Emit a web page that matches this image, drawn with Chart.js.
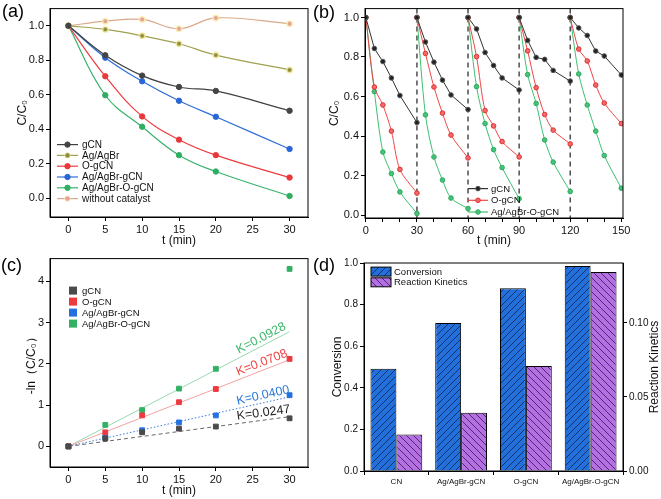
<!DOCTYPE html>
<html>
<head>
<meta charset="utf-8">
<script src="https://cdn.jsdelivr.net/npm/chart.js@4.4.0/dist/chart.umd.min.js"></script>
<style>
  body { margin: 0; width: 661px; height: 499px; background: #fff; position: relative; overflow: hidden;
         font-family: "Liberation Sans", Arial, sans-serif; }
  canvas { position: absolute; }
  .tag { position: absolute; font-size: 18px; line-height: 18px; color: #000; }
</style>
</head>
<body>
<canvas id="chart-a" width="330" height="250" style="left:0;top:0"></canvas>
<canvas id="chart-b" width="335" height="250" style="left:326px;top:0"></canvas>
<canvas id="chart-c" width="330" height="249" style="left:0;top:250px"></canvas>
<canvas id="chart-d" width="335" height="249" style="left:326px;top:250px"></canvas>
<div class="tag" style="left:2px;top:2px">(a)</div>
<div class="tag" style="left:313px;top:3px">(b)</div>
<div class="tag" style="left:1px;top:256px">(c)</div>
<div class="tag" style="left:313px;top:256px">(d)</div>
<script>
// ---- (a) C/C0 vs time, all samples ----
const timeA = [0, 5, 10, 15, 20, 30];
const gcnA = [1.0, 0.829, 0.711, 0.645, 0.622, 0.507];
const agAgBrA = [1.0, 0.979, 0.942, 0.896, 0.830, 0.744];
const ogcnA = [1.0, 0.707, 0.474, 0.339, 0.249, 0.119];
const agGcnA = [1.0, 0.815, 0.678, 0.565, 0.472, 0.285];
const agOgcnA = [1.0, 0.597, 0.414, 0.249, 0.154, 0.012];
const blankA = [1.0, 1.027, 1.037, 0.983, 1.046, 1.012];
const ticksA = [0, 5, 10, 15, 20, 25, 30];
const ticksAy = [0, 0.2, 0.4, 0.6, 0.8, 1.0];

// ---- (b) cycling runs ----
const cycleStarts = [0, 30, 60, 90, 120];
const cycleOffsets = [0, 5, 10, 15, 20, 30];
const gcnB = [
  [1.0, 0.843, 0.777, 0.694, 0.605, 0.468],
  [1.0, 0.876, 0.774, 0.683, 0.608, 0.534],
  [1.0, 0.942, 0.823, 0.757, 0.694, 0.633],
  [1.0, 0.884, 0.798, 0.788, 0.732, 0.678],
  [1.0, 0.947, 0.909, 0.830, 0.805, 0.709],
];
const ogcnB = [
  [1.0, 0.648, 0.557, 0.425, 0.231, 0.111],
  [1.0, 0.818, 0.648, 0.516, 0.405, 0.289],
  [1.0, 0.802, 0.529, 0.451, 0.372, 0.294],
  [1.0, 0.831, 0.645, 0.509, 0.430, 0.360],
  [1.0, 0.840, 0.780, 0.658, 0.567, 0.463],
];
const agOgcnB = [
  [1.0, 0.625, 0.319, 0.210, 0.117, 0.008],
  [1.0, 0.507, 0.294, 0.177, 0.086, 0.033],
  [1.0, 0.650, 0.463, 0.331, 0.240, 0.083],
  [1.0, 0.711, 0.565, 0.380, 0.268, 0.119],
  [1.0, 0.714, 0.557, 0.425, 0.301, 0.136],
];
const cycleBreaks = [30, 60, 90, 120];
const labelTicksB = [0, 30, 60, 90, 120, 150];
const ticksBy = [0, 0.2, 0.4, 0.6, 0.8, 1.0];

// ---- (c) -ln(C/C0) kinetics ----
const timeC = [0, 5, 10, 15, 20, 30];
const gcnC = [0, 0.19, 0.34, 0.43, 0.48, 0.68];
const ogcnC = [0, 0.34, 0.75, 1.07, 1.39, 2.12];
const agGcnC = [0, 0.22, 0.39, 0.58, 0.75, 1.24];
const agOgcnC = [0, 0.52, 0.88, 1.40, 1.88, 4.30];
const fitEndC = [0.72, 2.10, 1.20, 2.78]; // fitted line value at 30 min
const kLabels = ["K=0.0247", "K=0.0708", "K=0.0400", "K=0.0928"];
const ticksCy = [0, 1, 2, 3, 4];

// ---- (d) conversion vs kinetics ----
const samplesD = ["CN", "Ag/AgBr-gCN", "O-gCN", "Ag/AgBr-O-gCN"];
const conversionD = [0.492, 0.712, 0.879, 0.985];
const kineticsD = [0.0247, 0.0394, 0.0709, 0.1345];
const ticksDy = [0, 0.2, 0.4, 0.6, 0.8, 1.0];
const ticksDy1 = [0, 0.05, 0.1];

Chart.defaults.font.family = '"Liberation Sans", Arial, sans-serif';
Chart.defaults.color = "#111";
Chart.defaults.animation = false;

const tickFont = { size: 11 };
const titleFont = { size: 12 };

// Helpers
function fixTicks(values) {
  return (axis) => { axis.ticks = values.map((v) => ({ value: v })); };
}
function axisBase() {
  return {
    grid: { drawOnChartArea: false, drawTicks: true, tickLength: 4, color: "#000" },
    border: { color: "#000", width: 1 },
    ticks: { font: tickFont, color: "#111", padding: 2, autoSkip: false, maxRotation: 0 },
  };
}
function hatch(fill, stroke, forward) {
  const c = document.createElement("canvas");
  c.width = c.height = 7;
  const g = c.getContext("2d");
  g.fillStyle = fill;
  g.fillRect(0, 0, 7, 7);
  g.strokeStyle = stroke;
  g.lineWidth = 1;
  g.beginPath();
  if (forward) {
    g.moveTo(-1, 8); g.lineTo(8, -1);
    g.moveTo(-1, 1); g.lineTo(1, -1);
    g.moveTo(6, 8); g.lineTo(8, 6);
  } else {
    g.moveTo(-1, -1); g.lineTo(8, 8);
    g.moveTo(6, -1); g.lineTo(8, 1);
    g.moveTo(-1, 6); g.lineTo(1, 8);
  }
  g.stroke();
  return g.createPattern(c, "repeat");
}

// Plugins
const framePlugin = {
  id: "frame",
  afterDatasetsDraw(chart) {
    const { ctx, chartArea: a } = chart;
    ctx.save();
    ctx.strokeStyle = "#000";
    ctx.lineWidth = 1;
    ctx.strokeRect(a.left, a.top, a.right - a.left, a.bottom - a.top);
    ctx.restore();
  },
};

const insetLegend = {
  id: "insetLegend",
  afterDraw(chart, args, opts) {
    if (!opts.datasets) return;
    const { ctx, chartArea } = chart;
    ctx.save();
    ctx.font = opts.font;
    ctx.textBaseline = "middle";
    opts.datasets.forEach((di, row) => {
      const ds = chart.data.datasets[di];
      const x = chartArea.left + opts.x;
      const y = chartArea.top + opts.y + row * opts.rowHeight;
      if (opts.sample === "line") {
        ctx.strokeStyle = ds.borderColor;
        ctx.lineWidth = 1.2;
        ctx.beginPath();
        ctx.moveTo(x, y);
        ctx.lineTo(x + opts.width, y);
        ctx.stroke();
        ctx.beginPath();
        ctx.arc(x + opts.width / 2, y, ds.pointRadius, 0, Math.PI * 2);
        ctx.fillStyle = ds.pointBackgroundColor;
        ctx.fill();
        ctx.strokeStyle = ds.pointBorderColor;
        ctx.lineWidth = 1;
        ctx.stroke();
      } else {
        ctx.fillStyle = ds.backgroundColor;
        ctx.fillRect(x, y - opts.height / 2, opts.width, opts.height);
        if (opts.outline) {
          ctx.strokeStyle = "#000";
          ctx.lineWidth = 1;
          ctx.strokeRect(x, y - opts.height / 2, opts.width, opts.height);
        }
      }
      ctx.fillStyle = "#111";
      ctx.fillText(ds.label, x + opts.width + opts.gap, y + 0.5);
    });
    ctx.restore();
  },
};

const cycleLines = {
  id: "cycleLines",
  beforeDatasetsDraw(chart) {
    const { ctx, chartArea: a, scales } = chart;
    ctx.save();
    ctx.strokeStyle = "#333";
    ctx.lineWidth = 1.3;
    ctx.setLineDash([5, 4]);
    cycleBreaks.forEach((t) => {
      const x = scales.x.getPixelForValue(t);
      ctx.beginPath();
      ctx.moveTo(x, a.top);
      ctx.lineTo(x, a.bottom);
      ctx.stroke();
    });
    ctx.restore();
  },
};

const kLabelPlugin = {
  id: "kLabels",
  afterDatasetsDraw(chart) {
    const { ctx, scales } = chart;
    const colors = ["#222", "#ee4444", "#2a78d8", "#3cb86a"];
    ctx.save();
    ctx.font = '12.5px "Liberation Sans", Arial, sans-serif';
    ctx.textAlign = "center";
    ctx.textBaseline = "bottom";
    fitEndC.forEach((end, i) => {
      const x0 = scales.x.getPixelForValue(0), y0 = scales.y.getPixelForValue(0);
      const x1 = scales.x.getPixelForValue(30), y1 = scales.y.getPixelForValue(end);
      const angle = Math.atan2(y1 - y0, x1 - x0);
      const f = 26.6 / 30;
      ctx.save();
      ctx.translate(x0 + (x1 - x0) * f, y0 + (y1 - y0) * f);
      ctx.rotate(angle);
      ctx.fillStyle = colors[i];
      ctx.fillText(kLabels[i], 0, -1);
      ctx.restore();
    });
    ctx.restore();
  },
};

const rightTitle = {
  id: "rightTitle",
  afterDraw(chart, args, opts) {
    const { ctx, chartArea: a } = chart;
    ctx.save();
    ctx.font = '12px "Liberation Sans", Arial, sans-serif';
    ctx.fillStyle = "#111";
    ctx.textAlign = "center";
    ctx.textBaseline = "middle";
    ctx.translate(chart.width - opts.offset, (a.top + a.bottom) / 2);
    ctx.rotate(-Math.PI / 2);
    ctx.fillText(opts.text, 0, 0);
    ctx.restore();
  },
};

// ---------- Chart (a) ----------
function seriesA(label, values, color, pointColor, halo) {
  return {
    label,
    data: timeA.map((t, i) => ({ x: t, y: values[i] })),
    borderColor: color,
    borderWidth: 1.2,
    pointRadius: 2.7,
    pointBackgroundColor: pointColor,
    pointBorderColor: halo || pointColor,
    pointBorderWidth: halo ? 1.6 : 1,
    tension: 0.4,
  };
}

function initChartA() {
  const x = axisBase();
  const y = axisBase();
  new Chart(document.getElementById("chart-a").getContext("2d"), {
    type: "line",
    data: {
      datasets: [
        seriesA("gCN", gcnA, "#404040", "#444444"),
        seriesA("Ag/AgBr", agAgBrA, "#a0a050", "#8e8e3e", "rgba(245,235,160,0.8)"),
        seriesA("O-gCN", ogcnA, "#ee3b3f", "#e8383c"),
        seriesA("Ag/AgBr-gCN", agGcnA, "#2f6fd8", "#2a66d8"),
        seriesA("Ag/AgBr-O-gCN", agOgcnA, "#38b26c", "#2fae62"),
        seriesA("without catalyst", blankA, "#dba98a", "#e3a09c", "rgba(250,238,170,0.85)"),
      ],
    },
    options: {
      responsive: false,
      layout: { padding: { top: 7, right: 22, left: 0, bottom: 0 } },
      plugins: {
        legend: { display: false },
        tooltip: { enabled: false },
        insetLegend: { datasets: [0, 1, 2, 3, 4, 5], sample: "line", x: 7, y: 136, rowHeight: 10.8,
          width: 21, gap: 4, font: '10px "Liberation Sans", Arial, sans-serif' },
      },
      scales: {
        x: { ...x, type: "linear", min: -2.5, max: 32.5, afterBuildTicks: fixTicks(ticksA),
          afterFit: (s) => { s.height = 33; },
          title: { display: true, text: "t (min)", font: titleFont, color: "#111", padding: { top: 0, bottom: 2 } } },
        y: { ...y, min: -0.11, max: 1.1, afterBuildTicks: fixTicks(ticksAy),
          ticks: { ...y.ticks, callback: (v) => v.toFixed(1) },
          afterFit: (s) => { s.width = 50; },
          title: { display: true, text: "C/C₀", font: titleFont, color: "#111", padding: { top: 15, bottom: 0 } } },
      },
    },
    plugins: [framePlugin, insetLegend],
  });
}

// ---------- Chart (b) ----------
function cycleSeries(values) {
  const pts = [];
  cycleStarts.forEach((start, c) => {
    cycleOffsets.forEach((dt, i) => pts.push({ x: start + dt, y: values[c][i] }));
    pts.push({ x: start + 30, y: null });
  });
  return pts;
}

function initChartB() {
  const x = axisBase();
  const y = axisBase();
  const minorB = [];
  for (let t = 0; t <= 150; t += 10) minorB.push(t);
  new Chart(document.getElementById("chart-b").getContext("2d"), {
    type: "line",
    data: {
      datasets: [
        { label: "gCN", data: cycleSeries(gcnB), borderColor: "#333", borderWidth: 1, pointRadius: 2.3,
          pointBackgroundColor: "#222", pointBorderColor: "#555", tension: 0, spanGaps: false },
        { label: "O-gCN", data: cycleSeries(ogcnB), borderColor: "#f04545", borderWidth: 1, pointRadius: 2.3,
          pointBackgroundColor: "#f26a6a", pointBorderColor: "#e03030", tension: 0.3, spanGaps: false },
        { label: "Ag/AgBr-O-gCN", data: cycleSeries(agOgcnB), borderColor: "#3cc070", borderWidth: 1, pointRadius: 2.3,
          pointBackgroundColor: "#45c478", pointBorderColor: "#2ea860", tension: 0.3, spanGaps: false },
      ],
    },
    options: {
      responsive: false,
      layout: { padding: { top: 4, right: 38, left: 0, bottom: 0 } },
      plugins: {
        legend: { display: false },
        tooltip: { enabled: false },
        insetLegend: { datasets: [0, 1, 2], sample: "line", x: 103, y: 180, rowHeight: 11.7,
          width: 20, gap: 3, font: '9.5px "Liberation Sans", Arial, sans-serif' },
      },
      scales: {
        x: { ...x, type: "linear", min: -0.5, max: 151, afterBuildTicks: fixTicks(minorB),
          ticks: { ...x.ticks, callback: (v) => (labelTicksB.includes(v) ? String(v) : "") },
          afterFit: (s) => { s.height = 32; },
          title: { display: true, text: "t (min)", font: titleFont, color: "#111", padding: { top: 0, bottom: 2 } } },
        y: { ...y, min: -0.015, max: 1.045, afterBuildTicks: fixTicks(ticksBy),
          ticks: { ...y.ticks, callback: (v) => v.toFixed(1) },
          afterFit: (s) => { s.width = 39; },
          title: { display: true, text: "C/C₀", font: titleFont, color: "#111", padding: { top: 1, bottom: 0 } } },
      },
    },
    plugins: [cycleLines, framePlugin, insetLegend],
  });
}

// ---------- Chart (c) ----------
function initChartC() {
  const x = axisBase();
  const y = axisBase();
  const pts = (vals) => timeC.map((t, i) => ({ x: t, y: vals[i] }));
  const fit = (end, color, dash) => ({
    type: "line", label: "fit", data: [{ x: 0, y: 0 }, { x: 30, y: end }],
    borderColor: color, borderWidth: 1, borderDash: dash, pointRadius: 0,
  });
  const marks = (label, vals, color) => ({
    type: "scatter", label, data: pts(vals), backgroundColor: color, borderColor: color,
    pointStyle: "rect", pointRadius: 3.4,
  });
  new Chart(document.getElementById("chart-c").getContext("2d"), {
    type: "scatter",
    data: {
      datasets: [
        marks("gCN", gcnC, "#4a4a4a"),
        marks("O-gCN", ogcnC, "#ee3a3e"),
        marks("Ag/AgBr-gCN", agGcnC, "#2470e0"),
        marks("Ag/AgBr-O-gCN", agOgcnC, "#34b064"),
        fit(fitEndC[0], "#666", [4, 3]),
        fit(fitEndC[1], "#f4a2a2", []),
        fit(fitEndC[2], "#3a7ad8", [1.5, 2]),
        fit(fitEndC[3], "#9ad8ae", []),
      ],
    },
    options: {
      responsive: false,
      layout: { padding: { top: 7, right: 22, left: 0, bottom: 0 } },
      plugins: {
        legend: { display: false },
        tooltip: { enabled: false },
        insetLegend: { datasets: [0, 1, 2, 3], sample: "box", x: 19, y: 32, rowHeight: 11,
          width: 8, height: 8, gap: 5, font: '9.5px "Liberation Sans", Arial, sans-serif' },
      },
      scales: {
        x: { ...x, type: "linear", min: -2.5, max: 32.5, afterBuildTicks: fixTicks(ticksA),
          afterFit: (s) => { s.height = 32; },
          title: { display: true, text: "t (min)", font: titleFont, color: "#111", padding: { top: 0, bottom: 1 } } },
        y: { ...y, min: -0.5, max: 4.55, afterBuildTicks: fixTicks(ticksCy),
          afterFit: (s) => { s.width = 50; },
          title: { display: true, text: "-ln（C/C₀）", font: titleFont, color: "#111", padding: { top: 24, bottom: 0 } } },
      },
    },
    plugins: [framePlugin, kLabelPlugin, insetLegend],
  });
}

// ---------- Chart (d) ----------
function initChartD() {
  const x = axisBase();
  const y = axisBase();
  const y1 = axisBase();
  const smallTicks = { size: 10 };
  const convFill = hatch("#2270dc", "#17306a", true);
  const kinFill = hatch("#b470e2", "#4c2a70", false);
  new Chart(document.getElementById("chart-d").getContext("2d"), {
    type: "bar",
    data: {
      labels: samplesD,
      datasets: [
        { label: "Conversion", data: conversionD, yAxisID: "y", backgroundColor: convFill,
          borderColor: "#000", borderWidth: 1, categoryPercentage: 0.8, barPercentage: 1.0 },
        { label: "Reaction Kinetics", data: kineticsD, yAxisID: "y1", backgroundColor: kinFill,
          borderColor: "#000", borderWidth: 1, categoryPercentage: 0.8, barPercentage: 1.0 },
      ],
    },
    options: {
      responsive: false,
      layout: { padding: { top: 13, right: 0, left: 0, bottom: 0 } },
      plugins: {
        legend: { display: false },
        tooltip: { enabled: false },
        insetLegend: { datasets: [0, 1], sample: "box", outline: true, x: 7, y: 8.6, rowHeight: 10.7,
          width: 20, height: 9, gap: 3, font: '9.5px "Liberation Sans", Arial, sans-serif' },
        rightTitle: { text: "Reaction Kinetics", offset: 6 },
      },
      scales: {
        x: { ...x, ticks: { ...x.ticks, font: { size: 8 }, padding: 2 },
          afterFit: (s) => { s.height = 28; } },
        y: { ...y, position: "left", min: 0, max: 1, afterBuildTicks: fixTicks(ticksDy),
          ticks: { ...y.ticks, font: smallTicks, callback: (v) => v.toFixed(1) },
          afterFit: (s) => { s.width = 38; },
          title: { display: true, text: "Conversion", font: titleFont, color: "#111", padding: { top: 4, bottom: 0 } } },
        y1: { ...y1, position: "right", min: 0, max: 0.1405, afterBuildTicks: fixTicks(ticksDy1),
          ticks: { ...y1.ticks, font: smallTicks, callback: (v) => v.toFixed(2) },
          afterFit: (s) => { s.width = 38; } },
      },
    },
    plugins: [framePlugin, insetLegend, rightTitle],
  });
}

initChartA();
initChartB();
initChartC();
initChartD();
</script>
</body>
</html>
